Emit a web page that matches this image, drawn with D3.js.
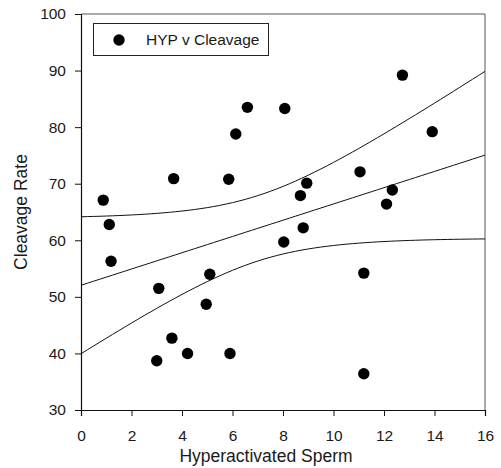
<!DOCTYPE html>
<html>
<head>
<meta charset="utf-8">
<script src="https://cdn.jsdelivr.net/npm/d3@7"></script>
<style>
  html, body { margin: 0; padding: 0; background: #fff; }
  svg { display: block; font-family: "Liberation Sans", Arial, sans-serif; }
</style>
</head>
<body>
<svg id="chart" width="501" height="468"></svg>
<script>
// Hyperactivated sperm (%) against cleavage rate (%)
const hypValues = [0.88, 1.12, 1.19, 3.67, 6.59, 8.07, 6.13, 5.85, 3.08, 5.10, 4.96, 3.60, 4.22,
                   3.00, 5.90, 8.94, 8.69, 11.05, 8.80, 8.03, 11.20, 12.73, 13.91, 12.33, 12.10, 11.20];
const cleavageValues = [67.1, 62.8, 56.3, 70.9, 83.5, 83.3, 78.8, 70.8, 51.5, 54.0, 48.7, 42.7, 40.0,
                        38.7, 40.0, 70.1, 67.9, 72.1, 62.2, 59.7, 54.2, 89.2, 79.2, 68.9, 66.4, 36.4];
const xTicks = [0, 2, 4, 6, 8, 10, 12, 14, 16];
const yTicks = [30, 40, 50, 60, 70, 80, 90, 100];
const seriesName = "HYP v Cleavage";
const tCrit = 2.064; // two-sided 95%, 24 degrees of freedom

const svg = d3.select("#chart");
const plotL = 81, plotR = 485, plotT = 14, plotB = 410;

const x = d3.scaleLinear().domain([0, 16]).range([plotL, plotR]);
const y = d3.scaleLinear().domain([30, 100]).range([plotB, plotT]);

// Least-squares fit with 95% confidence band of the mean
const n = hypValues.length;
const mx = d3.mean(hypValues), my = d3.mean(cleavageValues);
const sxx = d3.sum(hypValues, v => (v - mx) ** 2);
const sxy = d3.sum(hypValues, (v, i) => (v - mx) * (cleavageValues[i] - my));
const slope = sxy / sxx, intercept = my - slope * mx;
const sse = d3.sum(hypValues, (v, i) => (cleavageValues[i] - (intercept + slope * v)) ** 2);
const se = Math.sqrt(sse / (n - 2));
const fitX = d3.range(0, 16.0001, 0.25);
const fit = fitX.map(v => {
  const yh = intercept + slope * v;
  const h = tCrit * se * Math.sqrt(1 / n + (v - mx) ** 2 / sxx);
  return { x: v, y: yh, lo: yh - h, hi: yh + h };
});

// frame (top and right edges)
svg.append("path")
  .attr("d", `M${plotL},${plotT}H${plotR}V${plotB}`)
  .attr("fill", "none").attr("stroke", "#555").attr("stroke-width", 1);

// axes
const xAxis = svg.append("g").attr("transform", `translate(0,${plotB})`)
  .call(d3.axisBottom(x).tickValues(xTicks).tickSize(6).tickPadding(14).tickFormat(d3.format("d")));
const yAxis = svg.append("g").attr("transform", `translate(${plotL},0)`)
  .call(d3.axisLeft(y).tickValues(yTicks).tickSize(6).tickPadding(9).tickFormat(d3.format("d")));
[xAxis, yAxis].forEach(g => {
  g.select(".domain").attr("stroke", "#111").attr("stroke-width", 1.2);
  g.selectAll(".tick line").attr("stroke", "#111");
  g.selectAll(".tick text").attr("fill", "#1a1a1a").style("font-size", "15.5px")
    .style("font-family", "'Liberation Sans', Arial, sans-serif");
});
xAxis.selectAll(".tick").filter(d => d === 0).select("line").remove();

// fitted line and confidence band
const line = key => d3.line().x(d => x(d.x)).y(d => y(d[key]));
["y", "lo", "hi"].forEach(k => {
  svg.append("path").datum(fit)
    .attr("d", line(k))
    .attr("fill", "none").attr("stroke", "#111").attr("stroke-width", 1);
});

// data points
svg.append("g").selectAll("circle")
  .data(hypValues.map((v, i) => [v, cleavageValues[i]]))
  .join("circle")
  .attr("cx", d => x(d[0])).attr("cy", d => y(d[1]))
  .attr("r", 5.7).attr("fill", "#000");

// legend
const lg = svg.append("g");
lg.append("rect").attr("x", 93.5).attr("y", 23.5).attr("width", 175).attr("height", 32)
  .attr("fill", "#fff").attr("stroke", "#222").attr("stroke-width", 1);
lg.append("circle").attr("cx", 119).attr("cy", 40).attr("r", 5.7).attr("fill", "#000");
lg.append("text").attr("x", 146).attr("y", 45).text(seriesName)
  .attr("fill", "#1a1a1a").style("font-size", "15.5px");

// axis titles
svg.append("text").attr("x", 266).attr("y", 462)
  .attr("text-anchor", "middle").attr("fill", "#1a1a1a").style("font-size", "17.5px")
  .text("Hyperactivated Sperm");
svg.append("text").attr("transform", `translate(27,${(plotT + plotB) / 2}) rotate(-90)`)
  .attr("text-anchor", "middle").attr("fill", "#1a1a1a").style("font-size", "17.5px")
  .text("Cleavage Rate");
</script>
</body>
</html>
